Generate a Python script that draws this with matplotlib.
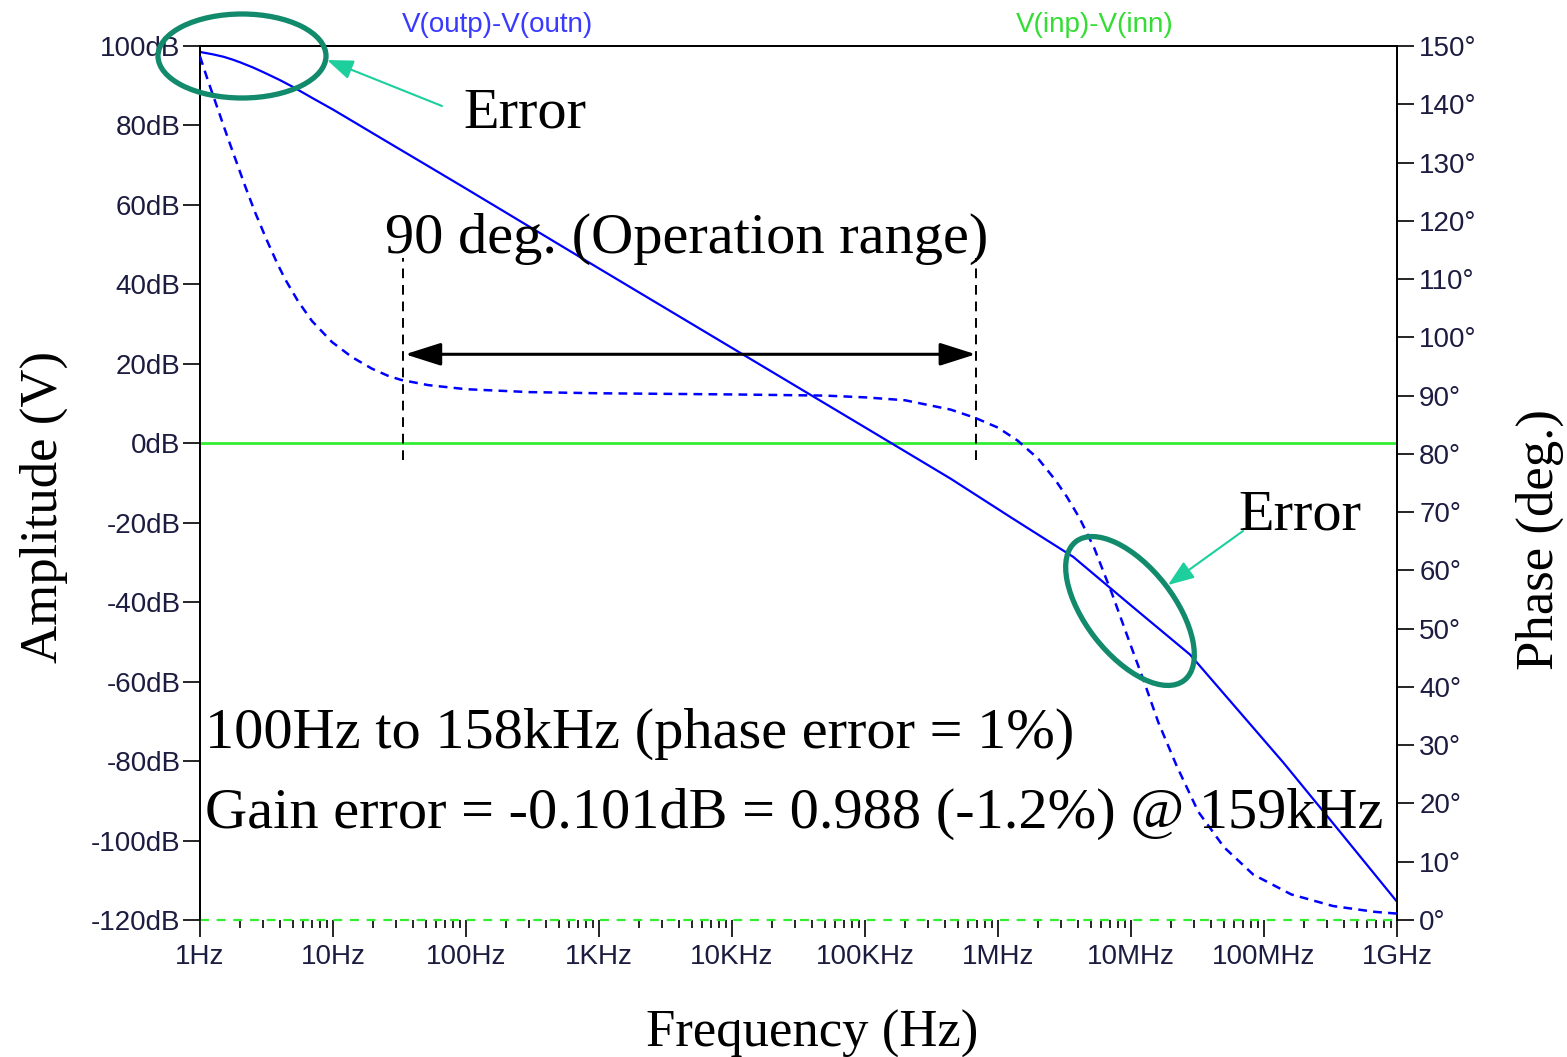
import numpy as np
import matplotlib
matplotlib.use("Agg")
import matplotlib.pyplot as plt
from matplotlib.patches import Ellipse, FancyArrowPatch
from matplotlib.transforms import Affine2D

# ----------------------------
# Data
# ----------------------------
mag_freq = [1, 1.25, 1.5, 1.75, 2, 2.5, 3, 4, 5, 7, 10, 15, 20, 30, 50, 100,
            1e3, 1e4, 1e5, 4.4e5, 1.27e6, 3.68e6, 1.04e7, 2.78e7, 6.24e7, 1.4e8,
            3.73e8, 1e9]
mag_db = [98.5, 97.9, 97.3, 96.6, 95.9, 94.6, 93.4, 91.4, 89.7, 86.9, 84.0, 80.5,
          78.0, 74.5, 70.1, 64.1, 44.0, 24.0, 4.0, -8.9, -18.8, -28.6, -41.3,
          -53.2, -66.8, -80.4, -97.8, -115.4]

phase_freq = [1, 1.15, 1.37, 1.62, 1.9, 2.18, 2.59, 3.19, 3.79, 4.36, 5.46, 6.95,
              9.82, 13.9, 19.7, 25.9, 32.4, 52, 100, 300, 1e3, 1e4, 5e4, 1e5,
              2e5, 4.4e5, 6.7e5, 1e6, 1.4e6, 2e6, 2.7e6, 3.3e6, 4.1e6, 5.3e6,
              7.2e6, 1e7, 1.25e7, 1.6e7, 2.2e7, 3.2e7, 5e7, 8.3e7, 1.6e8, 3.3e8,
              6.8e8, 1e9]
phase_deg = [148.2, 144.0, 139.0, 134.2, 129.8, 126.0, 121.5, 116.6, 112.8, 110.0,
             106.2, 102.8, 99.2, 96.6, 94.6, 93.4, 92.7, 91.8, 91.1, 90.6, 90.4,
             90.2, 90.0, 89.7, 89.2, 87.6, 86.2, 84.5, 82.3, 79.2, 75.5, 72.6,
             69.0, 63.8, 56.0, 47.0, 41.0, 34.0, 26.5, 18.6, 12.5, 7.8, 4.4, 2.4,
             1.4, 1.1]

ref_freq = [1, 1e9]
ref_db = [0, 0]
ref_deg = [0, 0]

db_ticks = list(range(-120, 101, 20))
deg_ticks = list(range(0, 151, 10))
freq_ticks = [1, 10, 100, 1e3, 1e4, 1e5, 1e6, 1e7, 1e8, 1e9]
freq_labels = ["1Hz", "10Hz", "100Hz", "1KHz", "10KHz", "100KHz",
               "1MHz", "10MHz", "100MHz", "1GHz"]

# operation range markers
f_lo, f_hi = 33.5, 6.8e5

# ----------------------------
# Style
# ----------------------------
W, H = 1567, 1057
SANS = "Liberation Sans"
SERIF = "Liberation Serif"
BLUE = "#0000ff"
GREEN = "#33ee33"
TEAL = "#128a6c"
ARROW = "#1ccf9c"
TICKCOL = "#1c1c40"

fig = plt.figure(figsize=(W / 100, H / 100), dpi=100)
fig.patch.set_facecolor("white")


def fx(x):
    return x / W


def fy(y):
    return 1 - y / H


# pixel coordinates with origin at the top-left corner
px = Affine2D().scale(1, -1).translate(0, H)

ax = fig.add_axes([fx(200), fy(920), 1197 / W, 874 / H])
ax2 = ax.twinx()

# ----------------------------
# Traces
# ----------------------------
ax.plot(ref_freq, ref_db, color=GREEN, lw=2.0, zorder=2)
ax.plot(mag_freq, mag_db, color=BLUE, lw=1.6, zorder=3)
ax2.plot(ref_freq, ref_deg, color=GREEN, lw=1.6, ls=(0, (4, 3.5)), clip_on=False, zorder=2)
ax2.plot(phase_freq, phase_deg, color=BLUE, lw=1.8, ls=(0, (3.5, 2.5)), zorder=3)

ax.set_xscale("log")
ax.set_xlim(1, 1e9)
ax.set_ylim(-120, 100)
ax2.set_ylim(0, 150)

# ----------------------------
# Axes styling
# ----------------------------
for a in (ax, ax2):
    a.spines["bottom"].set_visible(False)
    for s in ("left", "right", "top"):
        a.spines[s].set_linewidth(1.3)
        a.spines[s].set_color("black")

ax.set_yticks(db_ticks)
ax.set_yticklabels([f"{v}dB" for v in db_ticks])
ax2.set_yticks(deg_ticks)
ax2.set_yticklabels([f"{v}°" for v in deg_ticks])
ax.set_xticks(freq_ticks)
ax.set_xticklabels(freq_labels)
ax.xaxis.set_minor_locator(matplotlib.ticker.LogLocator(base=10, subs=np.arange(2, 10), numticks=20))
ax.xaxis.set_minor_formatter(matplotlib.ticker.NullFormatter())

ax.tick_params(axis="y", direction="out", length=12, width=1.2, pad=2,
               labelsize=20, labelcolor=TICKCOL)
ax2.tick_params(axis="y", direction="out", length=12, width=1.2, pad=4,
                labelsize=20, labelcolor=TICKCOL)
ax.tick_params(axis="x", which="major", direction="out", length=12, width=1.2,
               pad=5, labelsize=20, labelcolor=TICKCOL)
ax.tick_params(axis="x", which="minor", direction="out", length=6, width=1.2)
for lab in ax.get_xticklabels() + ax.get_yticklabels() + ax2.get_yticklabels():
    lab.set_fontfamily(SANS)

# ----------------------------
# Operation range markers
# ----------------------------
for f in (f_lo, f_hi):
    ax.plot([f, f], [-4.3, 46.6], color="black", lw=1.4, ls=(0, (5, 3.5)), zorder=4)
ax.annotate("", xy=(f_hi, 22.4), xytext=(f_lo * 1.04, 22.4),
            arrowprops=dict(arrowstyle="<|-|>,head_length=1.1,head_width=0.35",
                            mutation_scale=20, shrinkA=0, shrinkB=0,
                            color="black", lw=2.2), zorder=4)

# ----------------------------
# Error ellipses and arrows
# ----------------------------
fig.add_artist(Ellipse((242, 56), 168, 84, angle=0, transform=px,
                       fill=False, edgecolor=TEAL, lw=3.8))
fig.add_artist(Ellipse((1130, 611), 176, 88, angle=52, transform=px,
                       fill=False, edgecolor=TEAL, lw=3.8))
for tail, tip in [((442, 106), (327, 60)), ((1243, 531), (1168, 585))]:
    fig.add_artist(FancyArrowPatch(tail, tip, transform=px,
                                   arrowstyle="-|>,head_length=0.8,head_width=0.3",
                                   mutation_scale=20, shrinkA=0, shrinkB=0,
                                   color=ARROW, lw=1.5))

# ----------------------------
# Text
# ----------------------------
fig.text(fx(497), fy(25), "V(outp)-V(outn)", color="#3a3aff", fontsize=20,
         family=SANS, ha="center", va="center")
fig.text(fx(1095), fy(25), "V(inp)-V(inn)", color="#33dd33", fontsize=20,
         family=SANS, ha="center", va="center")

big = dict(family=SERIF, fontsize=42, color="black", va="baseline")
fig.text(fx(463), fy(128), "Error", ha="left", **big)
fig.text(fx(1238), fy(530), "Error", ha="left", **big)
fig.text(fx(385), fy(253), "90 deg. (Operation range)", ha="left", **big)
fig.text(fx(205), fy(748), "100Hz to 158kHz (phase error = 1%)", ha="left", **big)
fig.text(fx(205), fy(828), "Gain error = -0.101dB = 0.988 (-1.2%) @ 159kHz", ha="left", **big)

fig.text(fx(812), fy(1047), "Frequency (Hz)", family=SERIF, fontsize=38,
         ha="center", va="baseline")
fig.text(fx(57), fy(507), "Amplitude (V)", family=SERIF, fontsize=38,
         rotation=90, rotation_mode="anchor", ha="center", va="baseline")
fig.text(fx(1553), fy(540), "Phase (deg.)", family=SERIF, fontsize=38,
         rotation=90, rotation_mode="anchor", ha="center", va="baseline")

fig.savefig("out.png", dpi=100)
